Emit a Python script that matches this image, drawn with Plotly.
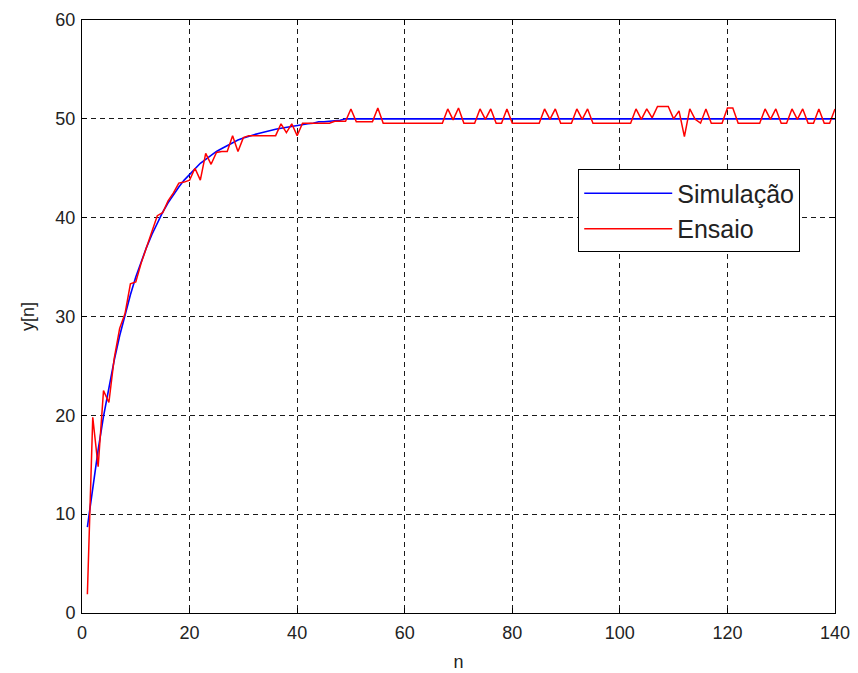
import plotly.graph_objects as go

# sample index
n = list(range(1, 141))

# Simulação (blue)
simulacao = [
    8.7, 12.8, 16.5, 19.9, 22.9, 25.6, 28.05, 30.2, 32.2, 34.0,
    35.6, 37.0, 38.3, 39.5, 40.55, 41.5, 42.35, 43.1, 43.8, 44.4,
    45.0, 45.5, 45.9, 46.3, 46.7, 47.0, 47.3, 47.6, 47.85, 48.05,
    48.25, 48.4, 48.55, 48.7, 48.85, 48.95, 49.05, 49.15, 49.25, 49.3,
    49.4, 49.5, 49.55, 49.7, 49.7, 49.75, 49.85, 49.85, 50.0, 50.0,
    50.0, 50.0, 50.0, 50.0, 50.0, 50.0, 50.0, 50.0, 50.0, 50.0,
    50.0, 50.0, 50.0, 50.0, 50.0, 50.0, 50.0, 50.0, 50.0, 50.0,
    50.0, 50.0, 50.0, 50.0, 50.0, 50.0, 50.0, 50.0, 50.0, 50.0,
    50.0, 50.0, 50.0, 50.0, 50.0, 50.0, 50.0, 50.0, 50.0, 50.0,
    50.0, 50.0, 50.0, 50.0, 50.0, 50.0, 50.0, 50.0, 50.0, 50.0,
    50.0, 50.0, 50.0, 50.0, 50.0, 50.0, 50.0, 50.0, 50.0, 50.0,
    50.0, 50.0, 50.0, 50.0, 50.0, 50.0, 50.0, 50.0, 50.0, 50.0,
    50.0, 50.0, 50.0, 50.0, 50.0, 50.0, 50.0, 50.0, 50.0, 50.0,
    50.0, 50.0, 50.0, 50.0, 50.0, 50.0, 50.0, 50.0, 50.0, 50.0,
]

# Ensaio (red)
ensaio = [
    1.9, 19.8, 14.8, 22.5, 21.3, 25.8, 28.8, 30.3, 33.3, 33.5,
    35.4, 37.0, 38.4, 40.2, 40.5, 41.7, 42.5, 43.5, 43.6, 43.8,
    45.0, 43.8, 46.5, 45.4, 46.6, 46.7, 46.7, 48.3, 46.7, 48.1,
    48.3, 48.3, 48.3, 48.3, 48.3, 48.3, 49.5, 48.6, 49.5, 48.3,
    49.56, 49.56, 49.56, 49.56, 49.56, 49.56, 49.75, 49.75, 49.75, 51.0,
    49.7, 49.7, 49.7, 49.7, 51.1, 49.56, 49.56, 49.56, 49.56, 49.56,
    49.56, 49.56, 49.56, 49.56, 49.56, 49.56, 49.56, 51.0, 49.9, 51.1,
    49.56, 49.56, 49.56, 51.0, 49.95, 51.0, 49.56, 49.56, 51.0, 49.56,
    49.56, 49.56, 49.56, 49.56, 49.56, 51.0, 49.95, 51.0, 49.56, 49.56,
    49.56, 51.0, 49.95, 51.0, 49.56, 49.56, 49.56, 49.56, 49.56, 49.56,
    49.56, 49.56, 51.0, 49.95, 51.0, 50.1, 51.25, 51.25, 51.25, 50.0,
    50.8, 48.2, 51.0, 49.95, 49.56, 51.0, 49.56, 49.56, 49.56, 51.1,
    51.1, 49.56, 49.56, 49.56, 49.56, 49.56, 51.0, 49.95, 51.0, 49.56,
    49.56, 51.0, 49.95, 51.0, 49.56, 49.56, 51.0, 49.56, 49.56, 51.0,
]

x_ticks = [0, 20, 40, 60, 80, 100, 120, 140]
y_ticks = [0, 10, 20, 30, 40, 50, 60]

FONT = "Liberation Sans, Arial, Helvetica, sans-serif"

fig = go.Figure()
fig.add_trace(go.Scatter(x=n, y=simulacao, mode="lines", name="Simulação",
                         line=dict(color="#0000FF", width=1.6)))
fig.add_trace(go.Scatter(x=n, y=ensaio, mode="lines", name="Ensaio",
                         line=dict(color="#FF0000", width=1.5)))

axis_common = dict(
    showline=True, linecolor="black", linewidth=1, mirror="ticks",
    ticks="inside", ticklen=5, tickcolor="black",
    showgrid=True, gridcolor="#1a1a1a", gridwidth=1, griddash="5px,4px",
    zeroline=False, automargin=False,
    tickfont=dict(family=FONT, size=18, color="#222222"),
)

fig.update_xaxes(range=[0, 140], tickvals=x_ticks, ticktext=[str(v) for v in x_ticks],
                 ticklabelstandoff=3,
                 title=dict(text="n", font=dict(family=FONT, size=18, color="#222222"), standoff=13),
                 **axis_common)
fig.update_yaxes(range=[0, 60], tickvals=y_ticks, ticktext=[str(v) for v in y_ticks],
                 ticklabelstandoff=2,
                 title=dict(text="y[n]", font=dict(family=FONT, size=18, color="#222222"), standoff=16),
                 **axis_common)

fig.update_layout(
    width=858, height=673,
    margin=dict(l=82, r=23, t=20, b=60),
    paper_bgcolor="white", plot_bgcolor="white",
    font=dict(family=FONT, size=18, color="#222222"),
    showlegend=True,
    legend=dict(x=0.659, y=0.748, xanchor="left", yanchor="top",
                bgcolor="white", bordercolor="black", borderwidth=1,
                font=dict(family=FONT, size=25, color="#222222"),
                itemwidth=88, entrywidth=225, entrywidthmode="pixels"),
)

fig.write_html("out.html", include_plotlyjs=True, config={"displayModeBar": False},
               post_script="document.body.style.margin='0';")
